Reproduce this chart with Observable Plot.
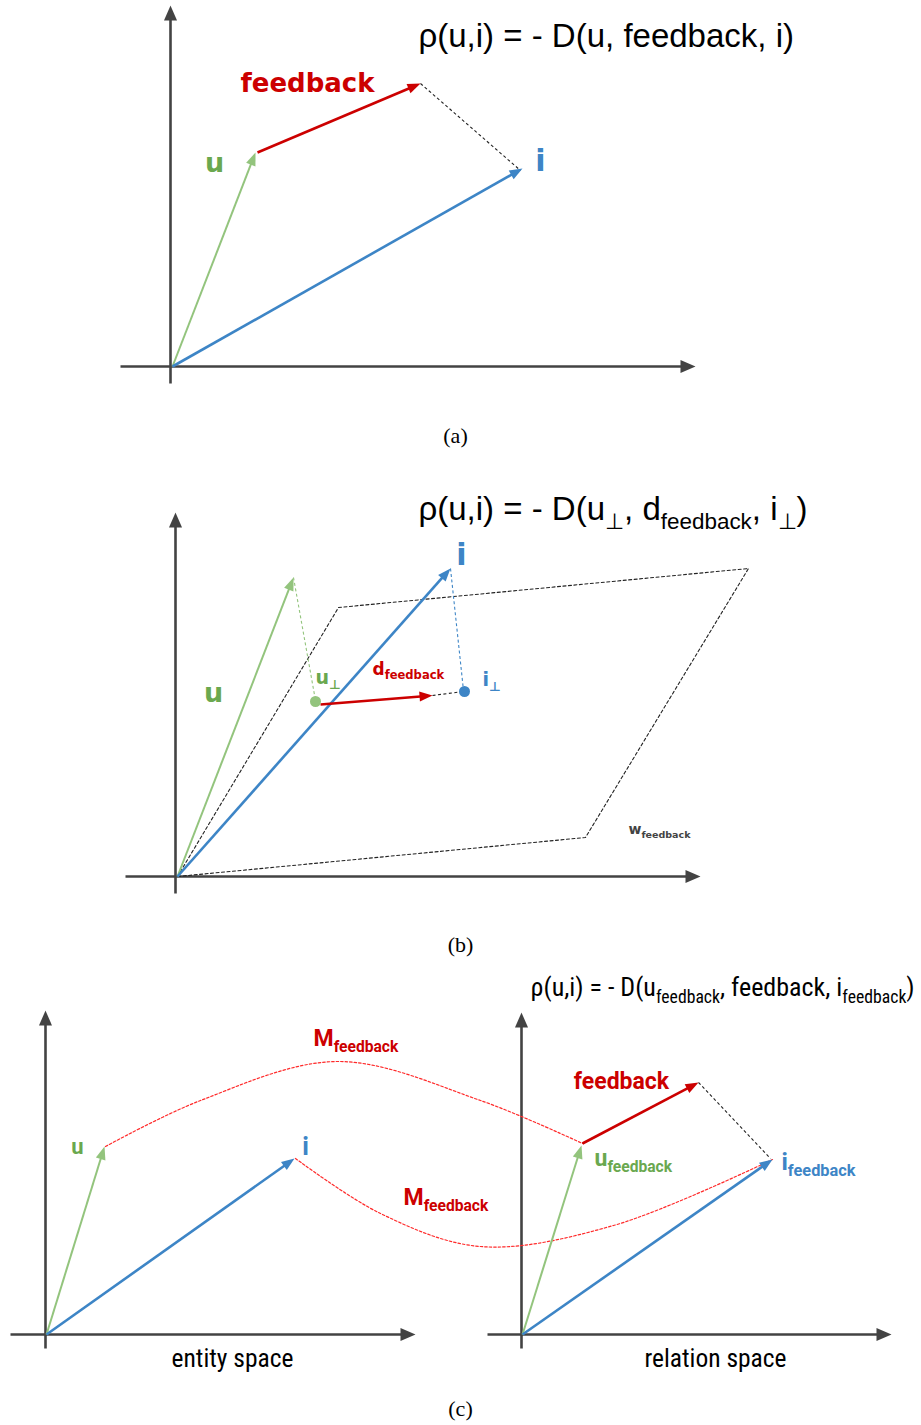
<!DOCTYPE html>
<html><head><meta charset="utf-8">
<script src="https://cdn.jsdelivr.net/npm/d3@7"></script>
<script src="https://cdn.jsdelivr.net/npm/@observablehq/plot@0.6"></script>
<style>body{margin:0;background:#fff}</style>
</head><body><div id="chart"></div>
<script>
// ---------- data (page coordinates of the diagram) ----------
const axisLines = [
  {panel:"a", x1:170, y1:383, x2:170, y2:5},
  {panel:"a", x1:120, y1:366, x2:695, y2:366},
  {panel:"b", x1:175, y1:893, x2:175, y2:512},
  {panel:"b", x1:125, y1:876, x2:700, y2:876},
  {panel:"c", x1:45, y1:1348, x2:45, y2:1010},
  {panel:"c", x1:10, y1:1334, x2:415, y2:1334},
  {panel:"c", x1:521, y1:1348, x2:521, y2:1012},
  {panel:"c", x1:487, y1:1334, x2:891, y2:1334}
];
const vectors = [
  {panel:"a", role:"user", x1:172, y1:366, x2:255, y2:152},
  {panel:"a", role:"feedback", x1:257, y1:152, x2:420, y2:83},
  {panel:"a", role:"item", x1:172, y1:366, x2:522, y2:168},
  {panel:"b", role:"user", x1:177, y1:876, x2:293, y2:577},
  {panel:"b", role:"item", x1:177, y1:876, x2:450, y2:568},
  {panel:"b", role:"feedback", x1:320, y1:704, x2:432, y2:695},
  {panel:"c", role:"user", x1:46, y1:1334, x2:104, y2:1146},
  {panel:"c", role:"item", x1:46, y1:1334, x2:294, y2:1158},
  {panel:"c", role:"user", x1:522, y1:1334, x2:581, y2:1145},
  {panel:"c", role:"feedback", x1:582, y1:1143, x2:698, y2:1082},
  {panel:"c", role:"item", x1:522, y1:1334, x2:772, y2:1159}
];
const guides = [
  {role:"black", x1:420, y1:83, x2:520, y2:170},
  {role:"user", x1:293, y1:577, x2:315, y2:700},
  {role:"item", x1:450, y1:568, x2:463, y2:690},
  {role:"black", x1:432, y1:695, x2:463, y2:691},
  {role:"black", x1:698, y1:1082, x2:770, y2:1158}
];
const planeCorners = [[177,876],[338,607],[748,568],[585,837],[177,876]];
const projections = [{role:"user", x:315, y:701}, {role:"item", x:464, y:691}];
const mappingUser = [[105,1146],[200,1100],[337,1061],[480,1100],[582,1143]];
const mappingItem = [[295,1158],[380,1213],[480,1246],[613,1225],[772,1159]];
const labels = [
  {id:"rhoA", text:"ρ(u,i) = - D(u, feedback, i)", x:418, y:36},
  {id:"fbA", text:"feedback", x:307, y:83},
  {id:"uA", text:"u", x:214, y:163},
  {id:"iA", text:"i", x:540, y:161},
  {id:"capA", text:"(a)", x:455, y:435},
  {id:"rhoB", text:"ρ(u,i) = - D(u_{⊥}, d_{feedback}, i_{⊥})", x:418, y:509},
  {id:"iB", text:"i", x:461, y:555},
  {id:"uB", text:"u", x:213, y:693},
  {id:"uPerp", text:"u_{⊥}", x:315, y:677},
  {id:"dFb", text:"d_{feedback}", x:372, y:669},
  {id:"iPerp", text:"i_{⊥}", x:482, y:679},
  {id:"wFb", text:"w_{feedback}", x:628, y:829},
  {id:"capB", text:"(b)", x:460, y:944},
  {id:"rhoC", text:"ρ(u,i) = - D(u_{feedback}, feedback, i_{feedback})", x:530, y:987},
  {id:"mU", text:"M_{feedback}", x:313, y:1038},
  {id:"mI", text:"M_{feedback}", x:403, y:1197},
  {id:"uC", text:"u", x:77, y:1146},
  {id:"iC", text:"i", x:305, y:1146},
  {id:"fbC", text:"feedback", x:621, y:1081},
  {id:"uFb", text:"u_{feedback}", x:594, y:1158},
  {id:"iFb", text:"i_{feedback}", x:781, y:1162},
  {id:"entity", text:"entity space", x:232, y:1358},
  {id:"relation", text:"relation space", x:715, y:1358},
  {id:"capC", text:"(c)", x:460, y:1408}
];

// ---------- styles ----------
const COL = {user:"#93c47d", userText:"#6aa84f", item:"#3d85c6", feedback:"#cc0000", curve:"#ff2a2a", black:"#222", axis:"#434343"};
const SANS = "'Liberation Sans', Arial, sans-serif";
const NARROW = "'Liberation Sans Narrow', 'Roboto Condensed', Roboto, sans-serif";
const BOLD = "'DejaVu Sans', Lato, sans-serif";
const COND_BOLD = "Roboto, 'Noto Sans', sans-serif";
const SERIF = "'Liberation Serif', 'DejaVu Serif', serif";
const st = (fontFamily, fontSize, fill, fontWeight="normal", textAnchor="middle") => ({fontFamily, fontSize, fill, fontWeight, textAnchor});
const labelStyle = {
  rhoA: st(SANS, 33, "#000", "normal", "start"),
  fbA: st(BOLD, 26, COL.feedback, "bold"),
  uA: st(BOLD, 27, COL.userText, "bold"),
  iA: st(BOLD, 30, COL.item, "bold"),
  capA: st(SERIF, 22, "#000"),
  rhoB: st(SANS, 33, "#000", "normal", "start"),
  iB: st(BOLD, 30, COL.item, "bold"),
  uB: st(BOLD, 27, COL.userText, "bold"),
  uPerp: st(BOLD, 19, COL.userText, "bold", "start"),
  dFb: st(BOLD, 17, COL.feedback, "bold", "start"),
  iPerp: st(BOLD, 19, COL.item, "bold", "start"),
  wFb: st(BOLD, 14, COL.axis, "bold", "start"),
  capB: st(SERIF, 22, "#000"),
  rhoC: st(NARROW, 26, "#000", "normal", "start"),
  mU: st(COND_BOLD, 23, COL.feedback, "bold", "start"),
  mI: st(COND_BOLD, 23, COL.feedback, "bold", "start"),
  uC: st(COND_BOLD, 22, COL.userText, "bold"),
  iC: st(COND_BOLD, 25, COL.item, "bold"),
  fbC: st(COND_BOLD, 23, COL.feedback, "bold"),
  uFb: st(COND_BOLD, 23, COL.userText, "bold", "start"),
  iFb: st(COND_BOLD, 24, COL.item, "bold", "start"),
  entity: st(NARROW, 25.5, "#000"),
  relation: st(NARROW, 25.5, "#000"),
  capC: st(SERIF, 22, "#000")
};

// ---------- geometry helpers (shaft + filled head from each segment) ----------
function split(list, L, W) {
  const shafts = [], heads = [];
  list.forEach((d, k) => {
    const dx = d.x2 - d.x1, dy = d.y2 - d.y1, len = Math.hypot(dx, dy);
    const ux = dx / len, uy = dy / len, px = -uy, py = ux;
    const bx = d.x2 - L * ux, by = d.y2 - L * uy;
    shafts.push({...d, x2: bx + ux, y2: by + uy});
    heads.push({...d, z:k, x:d.x2, y:d.y2});
    heads.push({...d, z:k, x:bx + W * px, y:by + W * py});
    heads.push({...d, z:k, x:bx - W * px, y:by - W * py});
  });
  return {shafts, heads};
}
const ax = split(axisLines, 15, 6.5);
const vec = split(vectors, 13, 5);
const vw = {user:2, item:2.6, feedback:2.6};

const marks = [];
marks.push(Plot.link(ax.shafts, {x1:"x1", y1:"y1", x2:"x2", y2:"y2", stroke:COL.axis, strokeWidth:2.6}));
marks.push(Plot.line(ax.heads, {x:"x", y:"y", z:"z", fill:COL.axis, stroke:"none"}));
// plane and guides
marks.push(Plot.line(planeCorners, {x:d=>d[0], y:d=>d[1], stroke:COL.black, strokeWidth:1.1, strokeDasharray:"3,2.5"}));
for (const r of ["black","user","item"]) {
  marks.push(Plot.link(guides.filter(d=>d.role===r), {x1:"x1", y1:"y1", x2:"x2", y2:"y2", stroke: r==="black" ? COL.black : COL[r], strokeWidth:1.1, strokeDasharray:"3,2.5"}));
}
// mapping curves
for (const c of [mappingUser, mappingItem]) {
  marks.push(Plot.line(c, {x:d=>d[0], y:d=>d[1], curve:"catmull-rom", stroke:COL.curve, strokeWidth:1.2, strokeDasharray:"2.5,2"}));
}
// vectors
for (const r of ["user","item","feedback"]) {
  marks.push(Plot.link(vec.shafts.filter(d=>d.role===r), {x1:"x1", y1:"y1", x2:"x2", y2:"y2", stroke:COL[r], strokeWidth:vw[r]}));
  marks.push(Plot.line(vec.heads.filter(d=>d.role===r), {x:"x", y:"y", z:"z", fill:COL[r], stroke:"none"}));
}
for (const r of ["user","item"]) {
  marks.push(Plot.dot(projections.filter(d=>d.role===r), {x:"x", y:"y", r:5.5, fill:COL[r], stroke:"none"}));
}
// labels
for (const l of labels) {
  marks.push(Plot.text([l], {x:"x", y:"y", text:"text", ...labelStyle[l.id]}));
}

const svg = Plot.plot({
  width:921, height:1425, margin:0,
  x:{domain:[0,921], range:[0,921], axis:null},
  y:{domain:[0,1425], range:[0,1425], axis:null},
  style:{background:"#fff", overflow:"visible"},
  marks
});

// subscripts: turn "_{...}" into lowered, smaller tspans
const R = 0.68, S = 0.26;
d3.select(svg).selectAll("text").each(function() {
  const t = this.textContent;
  if (!t.includes("_{")) return;
  const parts = t.split(/_\{([^}]*)\}/);
  while (this.firstChild) this.removeChild(this.firstChild);
  const sel = d3.select(this);
  parts.forEach((p, k) => {
    if (p === "") return;
    const ts = sel.append("tspan").text(p);
    if (k % 2 === 1) {
      ts.attr("font-size", (R * 100) + "%").attr("dy", (S / R) + "em");
    } else if (k > 0) {
      ts.attr("dy", (-S) + "em");
    }
  });
});

document.getElementById("chart").appendChild(svg);
</script>
</body></html>
